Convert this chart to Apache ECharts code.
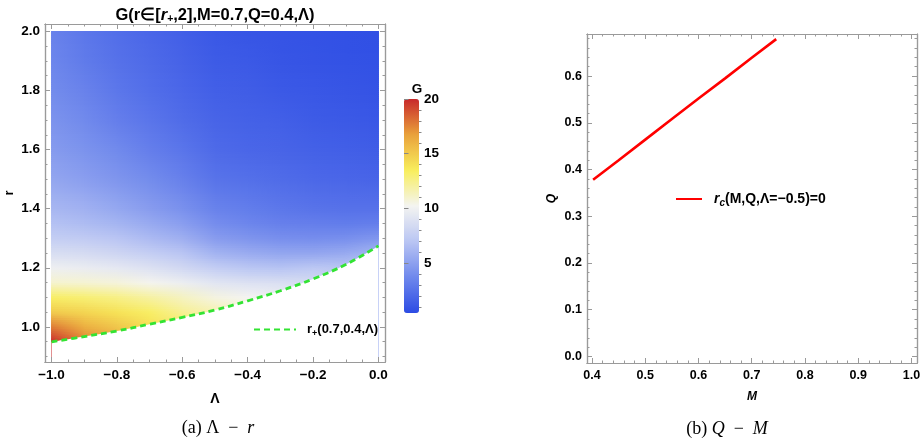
<!DOCTYPE html>
<html>
<head>
<meta charset="utf-8">
<script src="https://cdn.jsdelivr.net/npm/echarts@6/dist/echarts.min.js"></script>
<style>
  html, body { margin: 0; padding: 0; background: #fff; }
  #chart { width: 924px; height: 445px; }
</style>
</head>
<body>
<div id="chart"></div>
<script>
// (a) G over the (Λ, r) plane, M=0.7, Q=0.4
const lambdaCols = [-1.0, -0.9, -0.8, -0.7, -0.6, -0.5, -0.4, -0.3, -0.2, -0.1, 0.0];
const rPlus = [0.949, 0.967, 0.986, 1.009, 1.032, 1.057, 1.088, 1.122, 1.162, 1.211, 1.274];
const gHorizon = [20.0, 17.2, 15.6, 14.0, 12.7, 11.5, 10.4, 9.4, 8.2, 6.7, 5.4];
const rRows = [1.0, 1.05, 1.1, 1.15, 1.2, 1.25, 1.3, 1.35, 1.4, 1.5, 1.6, 1.7, 1.8, 1.9, 2.0];
const gRows = [
    [17.8, 16.2, 15.2, null, null, null, null, null, null, null, null],
    [15.0, 14.6, 14.0, 13.3, 12.3, null, null, null, null, null, null],
    [13.3, 13.0, 12.6, 12.0, 11.3, 10.6, 10.2, null, null, null, null],
    [11.0, 10.9, 10.7, 10.3, 9.8, 9.2, 8.9, 8.8, null, null, null],
    [9.9, 9.7, 9.4, 8.9, 8.3, 7.6, 7.1, 6.9, 7.2, null, null],
    [8.7, 8.5, 8.1, 7.6, 7.0, 6.0, 5.6, 5.3, 5.3, 5.5, null],
    [7.6, 7.4, 7.0, 6.4, 5.8, 4.8, 4.4, 4.1, 4.0, 4.1, 4.5],
    [6.8, 6.5, 6.1, 5.5, 4.9, 4.0, 3.6, 3.3, 3.2, 3.1, 3.2],
    [6.2, 5.9, 5.4, 4.8, 4.2, 3.4, 3.1, 2.8, 2.6, 2.5, 2.5],
    [5.3, 4.9, 4.4, 3.9, 3.3, 2.6, 2.4, 2.2, 2.0, 1.9, 1.8],
    [4.7, 4.3, 3.8, 3.2, 2.7, 2.1, 1.9, 1.8, 1.6, 1.5, 1.4],
    [4.3, 3.8, 3.2, 2.7, 2.2, 1.8, 1.6, 1.5, 1.3, 1.2, 1.1],
    [3.9, 3.4, 2.8, 2.3, 1.9, 1.5, 1.4, 1.2, 1.1, 1.0, 0.9],
    [3.6, 3.0, 2.5, 2.1, 1.7, 1.3, 1.2, 1.0, 0.9, 0.8, 0.75],
    [3.4, 2.8, 2.3, 1.9, 1.5, 1.15, 1.0, 0.9, 0.8, 0.7, 0.65]
];
const lambdaTicks = [-1.0, -0.8, -0.6, -0.4, -0.2, 0.0];
const rTicks = [1.0, 1.2, 1.4, 1.6, 1.8, 2.0];
const gTicks = [5, 10, 15, 20];

// (b) r_c = 0 line in the (M, Q) plane
const mVals = [0.402, 0.45, 0.5, 0.55, 0.6, 0.65, 0.7, 0.746];
const qVals = [0.378, 0.420, 0.464, 0.508, 0.552, 0.595, 0.639, 0.679];
const mTicks = [0.4, 0.5, 0.6, 0.7, 0.8, 0.9, 1.0];
const qTicks = [0.0, 0.1, 0.2, 0.3, 0.4, 0.5, 0.6];

const FONT = 'Liberation Sans';
const FRAME = '#9a9a9a';
const R_MIN = 0.881;

function minorTicks(from, to, step, major) {
    let out = [];
    for (let v = from; v <= to + 1e-9; v += step) {
        let x = Math.round(v * 1000) / 1000;
        if (!major.some(m => Math.abs(m - x) < 1e-9)) out.push(x);
    }
    return out;
}

function fmt(v) {
    return (v < 0 ? '\u2212' : '') + Math.abs(v).toFixed(1);
}

// one side of a Mathematica style frame: major or minor ticks pointing inside
function frameAxis(gridIndex, position, min, max, ticks, length, labelSize, extra) {
    let ax = {
        type: 'value', gridIndex: gridIndex, position: position, min: min, max: max, z: 10,
        axisLine: { show: true, onZero: false, lineStyle: { color: FRAME, width: 1.2 } },
        axisTick: { show: true, inside: true, length: length, customValues: ticks, lineStyle: { color: FRAME, width: 1 } },
        axisLabel: { show: false },
        splitLine: { show: false }
    };
    if (labelSize) {
        ax.axisLabel = {
            show: true, customValues: ticks, formatter: fmt,
            color: '#000', fontFamily: FONT, fontWeight: 'bold', fontSize: labelSize,
            margin: (position === 'bottom' ? 6 : 5)
        };
    }
    return Object.assign(ax, extra || {});
}

function frameAxes(gridIndex, dim, min, max, major, minor, labelSize, extra) {
    let sides = dim === 'x' ? ['bottom', 'top'] : ['left', 'right'];
    return [
        frameAxis(gridIndex, sides[0], min, max, major, 5, labelSize, extra),
        frameAxis(gridIndex, sides[0], min, max, minor, 2.5, 0),
        frameAxis(gridIndex, sides[1], min, max, major, 5, 0),
        frameAxis(gridIndex, sides[1], min, max, minor, 2.5, 0)
    ];
}

// nodes of the density plot; nodeIndex[c][L] points at the node used for level L of column c
// (level 0 is the horizon, levels under the horizon reuse the horizon node)
let heatData = [];
let nodeIndex = [];
lambdaCols.forEach(function (lam, c) {
    let h = heatData.length;
    let col = [h];
    heatData.push([lam, rPlus[c], gHorizon[c]]);
    rRows.forEach(function (r, k) {
        if (gRows[k][c] !== null) {
            col.push(heatData.length);
            heatData.push([lam, r, gRows[k][c]]);
        } else {
            col.push(h);
        }
    });
    nodeIndex.push(col);
});

function rgbOf(s) {
    if (s[0] === '#') {
        return [parseInt(s.slice(1, 3), 16), parseInt(s.slice(3, 5), 16), parseInt(s.slice(5, 7), 16)];
    }
    let m = s.match(/[\d.]+/g);
    return [+m[0], +m[1], +m[2]];
}

function mix(a, b, t) {
    let p = rgbOf(a), q = rgbOf(b);
    return 'rgb(' + [0, 1, 2].map(k => Math.round(p[k] + (q[k] - p[k]) * t)).join(',') + ')';
}

// shade the cells between two columns of nodes, like a density plot does
function renderHeatCell(params, api) {
    let i = params.dataIndexInside;
    let c = lambdaCols.indexOf(heatData[i][0]);
    let children = [];
    if (c === lambdaCols.length - 1) return { type: 'group', children: children };
    let lamL = lambdaCols[c], lamR = lambdaCols[c + 1];
    let left = nodeIndex[c], right = nodeIndex[c + 1];

    if (left[0] === i) {
        // under the horizon chord, hidden by the white area under r+
        let p = [api.coord([lamL, rPlus[c]]), api.coord([lamR, rPlus[c + 1]]), api.coord([lamR, R_MIN]), api.coord([lamL, R_MIN])];
        children.push({
            type: 'polygon',
            shape: { points: [[p[0][0] - 0.5, p[0][1] - 0.5], [p[1][0] + 0.5, p[1][1] - 0.5], [p[2][0] + 0.5, p[2][1]], [p[3][0] - 0.5, p[3][1]]] },
            style: {
                fill: new echarts.graphic.LinearGradient(0, 0, 1, 0, [
                    { offset: 0, color: api.visual('color', left[0]) },
                    { offset: 1, color: api.visual('color', right[0]) }
                ])
            }
        });
    }

    for (let L = 0; L < rRows.length; L++) {
        if (left[L] !== i) continue;
        let bl = heatData[left[L]], tl = heatData[left[L + 1]];
        let br = heatData[right[L]], tr = heatData[right[L + 1]];
        let cbl = api.visual('color', left[L]), ctl = api.visual('color', left[L + 1]);
        let cbr = api.visual('color', right[L]), ctr = api.visual('color', right[L + 1]);
        let h = Math.max(api.size([0, tl[1] - bl[1]])[1], api.size([0, tr[1] - br[1]])[1]);
        let n = Math.max(1, Math.ceil(h / 2));
        for (let s = 0; s < n; s++) {
            let t0 = s / n, t1 = (s + 1) / n, tm = (s + 0.5) / n;
            let a = api.coord([lamL, bl[1] + (tl[1] - bl[1]) * t0]);
            let b = api.coord([lamL, bl[1] + (tl[1] - bl[1]) * t1]);
            let d = api.coord([lamR, br[1] + (tr[1] - br[1]) * t0]);
            let e = api.coord([lamR, br[1] + (tr[1] - br[1]) * t1]);
            children.push({
                type: 'polygon',
                shape: { points: [[a[0] - 0.5, a[1] + 0.5], [b[0] - 0.5, b[1] - 0.5], [e[0] + 0.5, e[1] - 0.5], [d[0] + 0.5, d[1] + 0.5]] },
                style: {
                    fill: new echarts.graphic.LinearGradient(0, 0, 1, 0, [
                        { offset: 0, color: mix(cbl, ctl, tm) },
                        { offset: 1, color: mix(cbr, ctr, tm) }
                    ])
                }
            });
        }
    }
    return { type: 'group', children: children };
}

const bold = { fontFamily: FONT, fontWeight: 'bold', fontSize: 13, color: '#000', lineHeight: 18 };
const boldIt = Object.assign({}, bold, { fontStyle: 'italic' });
const sub = { fontFamily: FONT, fontWeight: 'bold', fontSize: 9, color: '#000', verticalAlign: 'bottom', lineHeight: 9 };
const subIt = Object.assign({}, sub, { fontStyle: 'italic' });
const serif = { fontFamily: 'Liberation Serif', fontSize: 18, color: '#222' };
const serifIt = Object.assign({}, serif, { fontStyle: 'italic' });

let xAxes = []
    .concat(frameAxes(0, 'x', -1.02, 0.02, lambdaTicks, minorTicks(-1.0, 0.0, 0.05, lambdaTicks), 13.5,
        { name: '\u039B', nameLocation: 'middle', nameGap: 30, nameTextStyle: { fontFamily: FONT, fontWeight: 'bold', fontSize: 14, color: '#000' } }))
    .concat(frameAxes(1, 'x', 0.3905, 1.0105, mTicks, minorTicks(0.4, 1.0, 0.02, mTicks), 12.5,
        { name: 'M', nameLocation: 'middle', nameGap: 28, nameTextStyle: { fontFamily: FONT, fontWeight: 'bold', fontStyle: 'italic', fontSize: 12, color: '#000' } }))
    .concat([{ type: 'value', gridIndex: 2, show: false, min: 0, max: 1 }]);

let yAxes = []
    .concat(frameAxes(0, 'y', R_MIN, 2.025, rTicks, minorTicks(0.9, 2.0, 0.05, rTicks), 13.5,
        { name: 'r', nameLocation: 'middle', nameGap: 29, nameTextStyle: { fontFamily: FONT, fontWeight: 'bold', fontSize: 13, color: '#000' } }))
    .concat(frameAxes(1, 'y', -0.014, 0.69, qTicks, minorTicks(0.0, 0.68, 0.02, qTicks), 12.5,
        { name: 'Q', nameLocation: 'middle', nameGap: 29, nameTextStyle: { fontFamily: FONT, fontWeight: 'bold', fontStyle: 'italic', fontSize: 12, color: '#000' } }))
    .concat([
        {
            type: 'value', gridIndex: 2, position: 'right', min: 0.45, max: 20, z: 10,
            axisLine: { show: false },
            axisTick: { show: true, length: 4.5, customValues: gTicks, lineStyle: { color: '#888' } },
            axisLabel: { show: true, customValues: gTicks, margin: 5, color: '#000', fontFamily: FONT, fontWeight: 'bold', fontSize: 13.5 },
            splitLine: { show: false }
        },
        {
            type: 'value', gridIndex: 2, position: 'right', min: 0.45, max: 20, z: 10,
            axisLine: { show: false },
            axisTick: { show: true, length: 2.5, customValues: minorTicks(1, 19, 1, gTicks), lineStyle: { color: '#888' } },
            axisLabel: { show: false },
            splitLine: { show: false }
        }
    ]);

echarts.init(document.querySelector('#chart')).setOption({
    animation: false,
    backgroundColor: '#fff',
    grid: [
        { left: 45, top: 24, width: 340, height: 338 },
        { left: 587, top: 34, width: 330, height: 329 },
        { left: 404, top: 99, width: 15, height: 214 }
    ],
    xAxis: xAxes,
    yAxis: yAxes,
    visualMap: {
        type: 'continuous', seriesIndex: 0, dimension: 2,
        min: 0.45, max: 20, left: 404, top: 99, padding: 0,
        itemWidth: 15, itemHeight: 214, calculable: false, hoverLink: false,
        inRange: { color: ['#2c4be4', '#6f88ec', '#b9c5f3', '#f4f4f1', '#f8ee5c', '#e9a13b', '#c8282b'] }
    },
    legend: [
        {
            data: ['rplus'], left: 253, top: 323, padding: 0, itemWidth: 42, itemHeight: 12, itemGap: 0,
            itemStyle: { opacity: 0 },
            formatter: function () { return '{b|r}{s|+}{b|(0.7,0.4,\u039B)}'; },
            textStyle: { rich: { b: bold, s: sub }, padding: [0, 0, 0, 6] }
        },
        {
            data: ['rc'], left: 675, top: 192, padding: 0, itemWidth: 26, itemHeight: 12, itemGap: 0,
            itemStyle: { opacity: 0 },
            formatter: function () { return '{i|r}{si|c}{b|(M,Q,\u039B=\u22120.5)=0}'; },
            textStyle: {
                rich: {
                    b: Object.assign({}, bold, { fontSize: 14 }),
                    i: Object.assign({}, boldIt, { fontSize: 14 }),
                    si: Object.assign({}, subIt, { fontSize: 10 })
                },
                padding: [0, 0, 0, 7]
            }
        }
    ],
    graphic: [
        {
            type: 'text', x: 215, y: 15,
            style: {
                text: '{b|G(r\u2208[}{i|r}{s|+}{b|,2],M=0.7,Q=0.4,\u039B)}',
                align: 'center', verticalAlign: 'middle',
                rich: {
                    b: Object.assign({}, bold, { fontSize: 16.5, lineHeight: 20 }),
                    i: Object.assign({}, boldIt, { fontSize: 16.5, lineHeight: 20 }),
                    s: Object.assign({}, sub, { fontSize: 10.5 })
                }
            }
        },
        {
            type: 'text', x: 417, y: 89,
            style: { text: 'G', align: 'center', verticalAlign: 'middle', font: 'bold 13.5px "Liberation Sans"', fill: '#000' }
        },
        {
            type: 'text', x: 218, y: 428,
            style: { text: '{n|(a) \u039B  \u2212  }{i|r}', align: 'center', verticalAlign: 'middle', rich: { n: serif, i: serifIt } }
        },
        {
            type: 'text', x: 727, y: 429,
            style: { text: '{n|(b) }{i|Q}{n|  \u2212  }{i|M}', align: 'center', verticalAlign: 'middle', rich: { n: serif, i: serifIt } }
        }
    ],
    series: [
        {
            type: 'custom', name: 'G', xAxisIndex: 0, yAxisIndex: 0,
            data: heatData, encode: { x: 0, y: 1 },
            renderItem: renderHeatCell, clip: true, silent: true, z: 2
        },
        {
            type: 'line', name: 'rplus', xAxisIndex: 0, yAxisIndex: 0,
            data: lambdaCols.map((l, c) => [l, rPlus[c]]),
            smooth: 0.4, symbol: 'none', silent: true, z: 3,
            lineStyle: { color: '#33e333', width: 2.8, type: [6, 4] },
            itemStyle: { color: '#33e333' },
            areaStyle: { color: '#fff', opacity: 1, origin: 'start' }
        },
        {
            type: 'line', name: 'rc', xAxisIndex: 4, yAxisIndex: 4,
            data: mVals.map((m, k) => [m, qVals[k]]),
            symbol: 'none', silent: true,
            lineStyle: { color: '#ff0000', width: 2.6 },
            itemStyle: { color: '#ff0000' }
        }
    ]
});
</script>
</body>
</html>
